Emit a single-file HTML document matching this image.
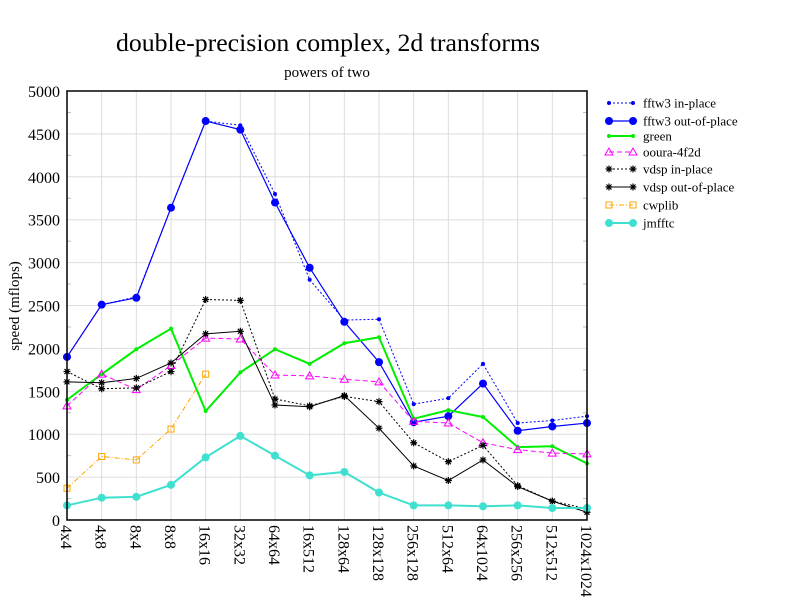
<!DOCTYPE html>
<html><head><meta charset="utf-8"><style>
html,body{margin:0;padding:0;background:#fff;}
svg{display:block;font-family:"Liberation Serif",serif;}
</style></head><body>
<svg id="s" width="792" height="612" xmlns="http://www.w3.org/2000/svg"></svg>
<script>
const s=document.getElementById('s');
const L=67,R=587,T=91,B=520;
const X=i=>L+i*(R-L)/15, Y=v=>B-v*(B-T)/5000;
let h='';
h+=`<text x="328" y="51" font-size="25.8" text-anchor="middle">double-precision complex, 2d transforms</text>`;
h+=`<text x="327" y="77" font-size="15" text-anchor="middle">powers of two</text>`;
for(let i=0;i<16;i++)h+=`<line x1="${X(i)}" y1="${T}" x2="${X(i)}" y2="${B}" stroke="#ddd"/>`;
for(let v=500;v<5000;v+=500)h+=`<line x1="${L}" y1="${Y(v)}" x2="${R}" y2="${Y(v)}" stroke="#ddd"/>`;
for(let v=250;v<5000;v+=500){h+=`<line x1="${L}" y1="${Y(v)}" x2="${L+4}" y2="${Y(v)}" stroke="#bbb"/><line x1="${R-4}" y1="${Y(v)}" x2="${R}" y2="${Y(v)}" stroke="#bbb"/>`;}
for(let v=0;v<=5000;v+=500)h+=`<text x="60" y="${Y(v)+6}" font-size="16" text-anchor="end">${v}</text>`;
h+=`<text transform="translate(19,306) rotate(-90)" font-size="15" text-anchor="middle">speed (mflops)</text>`;
const cats=["4x4","4x8","8x4","8x8","16x16","32x32","64x64","16x512","128x64","128x128","256x128","512x64","64x1024","256x256","512x512","1024x1024"];
cats.forEach((c,i)=>{h+=`<text transform="translate(${X(i)-6},525) rotate(90)" font-size="16">${c}</text>`;});
const S=[
{n:"fftw3 in-place",c:"#0000ff",d:"2,2",w:1,m:"dot",r:2,v:[1900,2510,2600,3640,4650,4600,3800,2800,2330,2340,1350,1420,1820,1130,1160,1210]},
{n:"fftw3 out-of-place",c:"#0000ff",d:"",w:1.2,m:"dot",r:4,v:[1900,2510,2590,3640,4650,4550,3700,2940,2310,1840,1140,1210,1590,1040,1090,1130]},
{n:"green",c:"#00ee00",d:"",w:2,m:"dot",r:2,v:[1400,1700,1990,2230,1270,1720,1990,1820,2060,2130,1180,1280,1200,850,860,660]},
{n:"ooura-4f2d",c:"#ff00ff",d:"5,3",w:1,m:"tri",v:[1330,1700,1520,1800,2120,2110,1690,1680,1640,1610,1150,1130,900,820,780,770]},
{n:"vdsp in-place",c:"#000",d:"2,2",w:1,m:"ast",v:[1730,1530,1540,1730,2570,2560,1410,1330,1440,1380,900,680,870,400,220,130]},
{n:"vdsp out-of-place",c:"#000",d:"",w:1,m:"ast",v:[1610,1600,1650,1830,2170,2200,1340,1320,1450,1070,630,460,700,390,220,90]},
{n:"cwplib",c:"#ffa500",d:"5,2,1,2",w:1,m:"sq",v:[370,740,700,1060,1700]},
{n:"jmfftc",c:"#40e0d0",d:"",w:2,m:"dot",r:4,v:[170,260,270,410,730,980,750,520,560,320,170,170,160,170,140,140]}
];
function mk(se,x,y){
 if(se.m=="dot")return `<circle cx="${x}" cy="${y}" r="${se.r}" fill="${se.c}"/>`;
 if(se.m=="tri")return `<polygon points="${x},${y-4} ${x-4},${y+3} ${x+4},${y+3}" fill="none" stroke="${se.c}"/>`;
 if(se.m=="sq")return `<rect x="${x-3}" y="${y-3}" width="6" height="6" fill="none" stroke="${se.c}"/>`;
 return `<path d="M${x-3.5},${y}h7M${x},${y-3.5}v7M${x-2.5},${y-2.5}l5,5M${x-2.5},${y+2.5}l5,-5" stroke="${se.c}" stroke-width="1.2"/>`;
}
S.forEach(se=>{
 const p=se.v.map((v,i)=>X(i)+","+Y(v)).join(" ");
 h+=`<polyline points="${p}" fill="none" stroke="${se.c}" stroke-width="${se.w}" stroke-dasharray="${se.d}"/>`;
 se.v.forEach((v,i)=>h+=mk(se,X(i),Y(v)));
});
h+=`<rect x="${L}" y="${T}" width="${R-L}" height="${B-T}" fill="none" stroke="#000" stroke-width="1.5"/>`;
const ly=[103,121,136,152,169,187,205,223];
S.forEach((se,i)=>{const y=ly[i];
 h+=`<line x1="609" y1="${y}" x2="633" y2="${y}" stroke="${se.c}" stroke-width="${se.w}" stroke-dasharray="${se.d}"/>`;
 h+=mk(se,609,y)+mk(se,633,y);
 h+=`<text x="643" y="${y+4.5}" font-size="13">${se.n}</text>`;
});
s.innerHTML=h;
</script>
</body></html>
